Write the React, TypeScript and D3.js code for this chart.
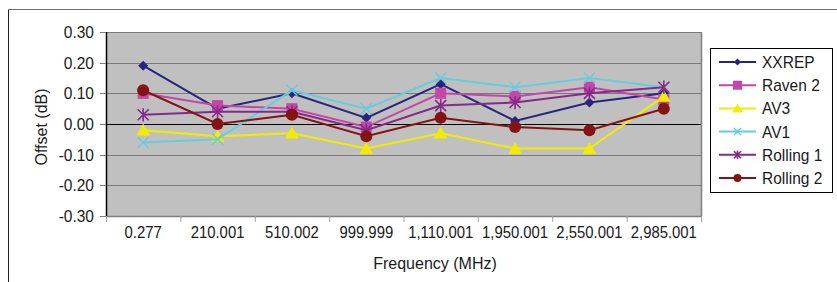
import React from 'react';
import * as d3 from 'd3';

const categories = ['0.277', '210.001', '510.002', '999.999', '1,110.001', '1,950.001', '2,550.001', '2,985.001'];
const yTicks = [0.3, 0.2, 0.1, 0, -0.1, -0.2, -0.3];

const seriesNames = ['XXREP', 'Raven 2', 'AV3', 'AV1', 'Rolling 1', 'Rolling 2'];
const xxrep = [0.19, 0.05, 0.10, 0.02, 0.13, 0.01, 0.07, 0.10];
const raven2 = [0.10, 0.06, 0.05, -0.01, 0.10, 0.09, 0.12, 0.08];
const av3 = [-0.02, -0.04, -0.03, -0.08, -0.03, -0.08, -0.08, 0.09];
const av1 = [-0.06, -0.05, 0.11, 0.05, 0.15, 0.12, 0.15, 0.12];
const rolling1 = [0.03, 0.04, 0.04, -0.02, 0.06, 0.07, 0.10, 0.12];
const rolling2 = [0.11, 0.00, 0.03, -0.04, 0.02, -0.01, -0.02, 0.05];

const seriesValues = [xxrep, raven2, av3, av1, rolling1, rolling2];
const colors = ['#262680', '#c446a8', '#f4ec00', '#66cce0', '#842a8a', '#841414'];
const markers = ['diamond', 'square', 'triangle', 'cross', 'star', 'circle'];

const font = '"Liberation Sans", Arial, sans-serif';

function Marker({ type, color, s }: { type: string; color: string; s: number }) {
  if (type === 'diamond') return <path d={`M0,${-s}L${s},0L0,${s}L${-s},0Z`} fill={color} />;
  if (type === 'square') return <rect x={-s} y={-s} width={2 * s} height={2 * s} fill={color} />;
  if (type === 'triangle') return <path d={`M0,${-s * 1.1}L${s * 1.15},${s * 0.9}L${-s * 1.15},${s * 0.9}Z`} fill={color} />;
  if (type === 'circle') return <circle r={s} fill={color} />;
  if (type === 'cross')
    return <path d={`M${-s},${-s}L${s},${s}M${-s},${s}L${s},${-s}`} stroke={color} strokeWidth={1.4} fill="none" />;
  // star (asterisk)
  return (
    <path
      d={`M${-s},${-s}L${s},${s}M${-s},${s}L${s},${-s}M0,${-s * 1.2}L0,${s * 1.2}`}
      stroke={color}
      strokeWidth={1.6}
      fill="none"
    />
  );
}

// narrow-ish text: the original uses a condensed face
function T({ x, y, anchor = 'start', sx = 0.93, rotate = 0, children }:
  { x: number; y: number; anchor?: string; sx?: number; rotate?: number; children: React.ReactNode }) {
  return (
    <text transform={`translate(${x},${y}) rotate(${rotate}) scale(${sx},1)`} textAnchor={anchor}
      fontSize={16} fill="#1a1a1a">
      {children}
    </text>
  );
}

const markerSize = [5, 5.5, 6, 5.5, 5.5, 6];
const legendMarkerSize = [3.5, 4.5, 4.5, 3.5, 3.5, 4];

export default function App() {
  const left = 106, right = 701, top = 32, bottom = 216;
  const x = d3.scaleBand<string>().domain(categories).range([left, right]);
  const y = d3.scaleLinear().domain([-0.3, 0.3]).range([bottom, top]);
  const cx = (c: string) => (x(c) as number) + x.bandwidth() / 2;
  const line = d3.line<number>().x((_, i) => cx(categories[i])).y(d => y(d));

  return (
    <svg width={837} height={282} style={{ position: 'absolute', left: 0, top: 0, background: '#fff' }} fontFamily={font}>
      {/* outer frame */}
      <line x1={8.5} y1={9.5} x2={837} y2={9.5} stroke="#6e6e6e" />
      <line x1={8.5} y1={9.5} x2={8.5} y2={282} stroke="#222" />

      {/* plot area */}
      <rect x={left} y={top} width={right - left} height={bottom - top} fill="#c0c0c0" />
      {yTicks.map(t => (
        <line key={t} x1={left} x2={right} y1={Math.round(y(t)) + 0.5} y2={Math.round(y(t)) + 0.5}
          stroke={t === 0 ? '#000' : '#7a7a7a'} strokeWidth={1.2} />
      ))}
      <line x1={right + 0.5} x2={right + 0.5} y1={top} y2={bottom} stroke="#808080" strokeWidth={1.5} />
      <line x1={left} x2={right + 1} y1={bottom + 0.5} y2={bottom + 0.5} stroke="#808080" strokeWidth={1.5} />
      <line x1={left + 0.5} x2={left + 0.5} y1={top} y2={bottom} stroke="#000" strokeWidth={1.5} />

      {/* y ticks */}
      {yTicks.map(t => (
        <g key={t}>
          <line x1={100} x2={left} y1={Math.round(y(t)) + 0.5} y2={Math.round(y(t)) + 0.5} stroke="#808080" />
          <T x={94} y={y(t) + 6} anchor="end" sx={0.97}>{t.toFixed(2)}</T>
        </g>
      ))}

      {/* x ticks */}
      {categories.map(c => (
        <line key={c} x1={(x(c) as number) + 0.5} x2={(x(c) as number) + 0.5} y1={bottom} y2={bottom + 6} stroke="#a0a0a0" />
      ))}
      <line x1={right + 0.5} x2={right + 0.5} y1={bottom} y2={bottom + 6} stroke="#a0a0a0" />
      {categories.map(c => (
        <T key={c} x={cx(c)} y={238} anchor="middle">{c}</T>
      ))}

      {/* axis titles */}
      <T x={435} y={269} anchor="middle" sx={1}>Frequency (MHz)</T>
      <T x={47} y={127} anchor="middle" rotate={-90} sx={1}>Offset (dB)</T>

      {/* series */}
      {seriesValues.map((vals, si) => (
        <g key={seriesNames[si]}>
          <path d={line(vals) as string} fill="none" stroke={colors[si]} strokeWidth={2} />
          {vals.map((v, i) => (
            <g key={i} transform={`translate(${cx(categories[i])},${y(v)})`}>
              <Marker type={markers[si]} color={colors[si]} s={markerSize[si]} />
            </g>
          ))}
        </g>
      ))}

      {/* legend */}
      <rect x={710.5} y={48.5} width={122} height={144} fill="#fff" stroke="#000" />
      {seriesNames.map((name, i) => {
        const ly = 62 + i * 23.2;
        return (
          <g key={name}>
            <line x1={719} x2={756} y1={ly} y2={ly} stroke={colors[i]} strokeWidth={2} />
            <g transform={`translate(737.5,${ly})`}>
              <Marker type={markers[i]} color={colors[i]} s={legendMarkerSize[i]} />
            </g>
            <T x={762} y={ly + 6} sx={0.97}>{name}</T>
          </g>
        );
      })}
    </svg>
  );
}
